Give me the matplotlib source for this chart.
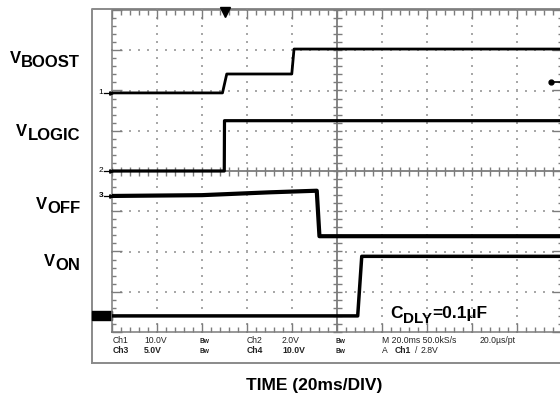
import numpy as np
import matplotlib.pyplot as plt
from matplotlib.collections import LineCollection
from matplotlib.patches import Rectangle

plt.rcParams['font.family'] = ['Liberation Sans', 'DejaVu Sans']

W, H = 560, 401
T_SPAN = 200          # 10 div x 20 ms
N_YDIV = 8

# traces: time in ms from the left edge of the screen, values in volts
boost_t = [0, 49.1, 51.0, 79.9, 80.9, 200]
boost_v = [0, 0, 4.7, 4.7, 10.9, 10.9]
logic_t = [0, 49.9, 50.0, 200]
logic_v = [0, 0, 2.5, 2.5]
off_t = [0, 40, 70, 91.0, 92.2, 200]
off_v = [0, 0.1, 0.45, 0.65, -5.0, -5.0]
on_t = [0, 109.2, 111.0, 200]
on_v = [0, 0, 14.8, 14.8]

# scope settings: volts/div and ground level (div from centre)
ch_scale = [10.0, 2.0, 5.0, 10.0]
ch_ground = [1.94, 0.0, -0.62, -3.6]
trig_time = 50
trig_level = 2.8

row1 = [(113, 'Ch1'), (144, '10.0V'), (200, 'Bw'), (247, 'Ch2'), (282, '2.0V'),
        (335, 'Bw'), (382, 'M 20.0ms 50.0kS/s'), (480, '20.0µs/pt')]
row2 = [(113, 'Ch3'), (144, '5.0V'), (200, 'Bw'), (247, 'Ch4'), (282, '10.0V'),
        (335, 'Bw'), (382, 'A'), (395, 'Ch1'), (415, '/'), (421, '2.8V')]


def screen(v, ch):
    return ch_ground[ch] + np.asarray(v) / ch_scale[ch]


fig = plt.figure(figsize=(W / 100, H / 100), dpi=100)

# overlay in pixel coordinates for frame and labels
ov = fig.add_axes([0, 0, 1, 1], zorder=0)
ov.set_xlim(0, W)
ov.set_ylim(H, 0)
ov.axis('off')

# graticule axes
ax = fig.add_axes([112 / W, 1 - 332 / H, 450 / W, 322 / H], zorder=1)
ax.set_xlim(0, T_SPAN)
ax.set_ylim(-N_YDIV / 2, N_YDIV / 2)
ax.axis('off')
ax.patch.set_alpha(0)

px_x = T_SPAN / 450
px_y = N_YDIV / 322
grey = '#7c7c7c'
dot = '#a8a8a8'

# outer frame
ov.plot([91.5, 91.5, W + 5], [363, 9, 9], color='#8a8a8a', lw=1.4)
ov.plot([91.5, W + 5], [363, 363], color='#8a8a8a', lw=1.4)

xs_minor = np.arange(0, T_SPAN + 0.1, 4)
ys_minor = np.arange(-4, 4.01, 0.2)

# dotted division lines
for k in range(1, 10):
    if k == 5:
        continue
    ax.scatter(np.full_like(ys_minor, k * 20), ys_minor, s=1.5, marker='s',
               color=dot, lw=0, clip_on=False)
for k in range(-3, 4):
    if k == 0:
        continue
    ax.scatter(xs_minor, np.full_like(xs_minor, k), s=1.5, marker='s',
               color=dot, lw=0, clip_on=False)

# border and centre lines
ax.plot([0, T_SPAN, T_SPAN, 0, 0], [-4, -4, 4, 4, -4], color=grey, lw=1.1, clip_on=False)
ax.plot([100, 100], [-4, 4], color=grey, lw=1.3)
ax.plot([0, T_SPAN], [0, 0], color=grey, lw=1.3)

segs = []
for x in xs_minor:
    major = np.isclose(x % 20, 0) or np.isclose(x % 20, 20)
    L = (9 if major else 5) * px_y
    segs.append([(x, 4), (x, 4 - L)])
    segs.append([(x, -4), (x, -4 + L)])
    segs.append([(x, -4.5 * px_y), (x, 4.5 * px_y)])
for y in ys_minor:
    major = np.isclose(y, round(y))
    L = (10 if major else 4) * px_x
    segs.append([(0, y), (L, y)])
    segs.append([(T_SPAN, y), (T_SPAN - L, y)])
    segs.append([(100 - 4.5 * px_x, y), (100 + 4.5 * px_x, y)])
ax.add_collection(LineCollection(segs, colors=grey, linewidths=1.0, clip_on=False))

# traces
ax.plot(boost_t, screen(boost_v, 0), color='black', lw=2.0)
ax.plot(logic_t, screen(logic_v, 1), color='black', lw=2.3)
ax.plot(off_t, screen(off_v, 2), color='black', lw=3.0)
ax.plot(on_t, screen(on_v, 3), color='black', lw=2.5)

# trigger position and level markers
ax.plot([trig_time], [4 - 2 * px_y], marker='v', ms=6.5, color='black', clip_on=False)
ty = ch_ground[0] + trig_level / ch_scale[0]
ax.plot([T_SPAN - 11 * px_x, T_SPAN], [ty, ty], color='black', lw=1.2, clip_on=False)
ax.plot([T_SPAN - 11 * px_x], [ty], marker='o', ms=3.5, color='black', clip_on=False)

# ground markers on the left
for ch, tag in [(0, '1'), (1, '2'), (2, '3')]:
    gy = ch_ground[ch]
    ax.plot([-8 * px_x, -0.5 * px_x], [gy, gy], color='black', lw=0.9, clip_on=False)
    ax.plot([-1.5 * px_x], [gy], marker='>', ms=2.5, color='black', clip_on=False)
    ax.text(-9 * px_x, gy, tag, fontsize=6, ha='right', va='center',
            fontweight='bold' if ch == 2 else 'normal')
g4 = ch_ground[3]
ax.add_patch(Rectangle((-20 * px_x, g4 - 4.5 * px_y), 19.5 * px_x, 9 * px_y,
                       color='black', clip_on=False))

# status lines
for x, s in row1:
    ov.text(x, 342.7, s, fontsize=6.2 if s != 'Bw' else 4.8, color='#222222',
            fontweight='bold' if s == 'Bw' else 'normal', va='baseline')
for x, s in row2:
    bold = s in ('Ch3', '5.0V', 'Bw', 'Ch4', '10.0V') or (x == 395)
    ov.text(x, 353, s, fontsize=6.2 if s != 'Bw' else 4.8, color='#222222',
            fontweight='bold' if bold else 'normal', va='baseline')


def vlabel(sub, base):
    s = ov.text(80, base, sub, fontsize=12, fontweight='bold', ha='right', va='baseline')
    ov.annotate('V', xy=(0, 0), xycoords=s, xytext=(0, 2.9), textcoords='offset points',
                ha='right', va='bottom', fontsize=12, fontweight='bold')


vlabel('BOOST', 66.7)
vlabel('LOGIC', 140)
vlabel('OFF', 212.7)
vlabel('ON', 270)

c = ov.text(390.5, 317.7, 'C', fontsize=12.5, fontweight='bold', va='baseline')
d = ov.annotate('DLY', xy=(1, 0), xycoords=c, xytext=(0, -3.6), textcoords='offset points',
                ha='left', va='bottom', fontsize=11, fontweight='bold')
ov.annotate('=0.1µF', xy=(1, 0), xycoords=d, xytext=(0, 3.6), textcoords='offset points',
            ha='left', va='bottom', fontsize=12.5, fontweight='bold')

ov.text(314.5, 390, 'TIME (20ms/DIV)', fontsize=12.5, fontweight='bold',
        ha='center', va='baseline')

fig.savefig('out.png', dpi=100)
